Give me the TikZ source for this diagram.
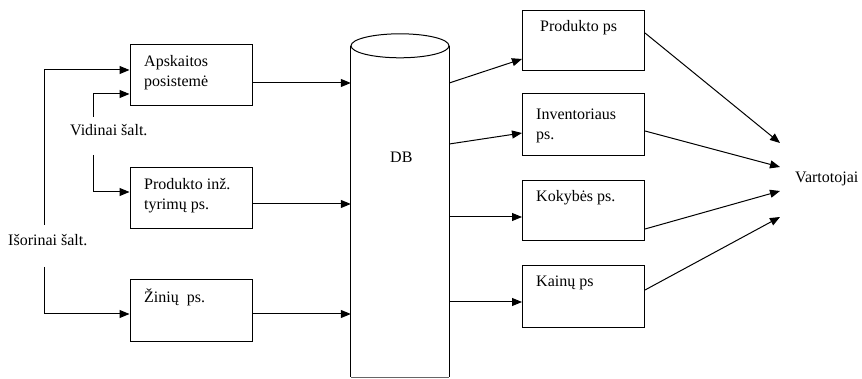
\documentclass[tikz,border=0pt]{standalone}
\usepackage{fontspec}
\setmainfont{Liberation Serif}
\usetikzlibrary{arrows.meta}
\begin{document}
\begin{tikzpicture}[x=1pt,y=-1pt,
  box/.style={draw, line width=1pt, minimum width=122pt, minimum height=61pt, inner sep=0pt},
  lbl/.style={anchor=base west, inner sep=0pt, align=left, font=\fontsize{16}{20}\selectfont},
  arr/.style={line width=1pt, -{Triangle[length=10pt,width=8pt]}}]
\useasboundingbox (0,0) rectangle (862,379);
% left boxes
\node[box] (apsk) at (191,75.5) {};
\node[box] (inz) at (191,198.5) {};
\node[box] (zin) at (191,310.5) {};
\node[lbl] (tapsk) at (144,87) {Apskaitos\\posistemė};
\node[lbl] (tinz) at (144,210) {Produkto inž.\\tyrimų ps.};
\node[lbl] (tzin) at (144,303) {Žinių~ ps.};
% sources
\node[lbl] (vid) at (70,136) {Vidinai šalt.};
\node[lbl] (iso) at (8,246) {Išorinai šalt.};
\coordinate (v1) at (93,117);
\coordinate (v2) at (93,155);
\coordinate (i1) at (44,225);
\coordinate (i2) at (44,267);
\draw[arr] (v1) |- (apsk.west|-0,94);
\draw[arr] (v2) |- (inz.west|-0,192);
\draw[arr] (i1) |- (apsk.west|-0,70);
\draw[arr] (i2) |- (zin.west|-0,314);
% DB cylinder
\node[inner sep=0pt, minimum width=98pt, minimum height=331pt] (db) at (400,211.5) {};
\draw[line width=1pt] (db.north) ellipse [x radius=49, y radius=12];
\draw[line width=1pt] (db.north west) -- (db.south west);
\draw[line width=1pt] (db.north east) -- (db.south east);
\draw[line width=1pt, black!60] (db.south west) -- (db.south east);
\node[lbl] (tdb) at (390,163) {DB};
\draw[arr] (apsk.east|-0,83) -- (db.west|-0,83);
\draw[arr] (inz.east|-0,204) -- (db.west|-0,204);
\draw[arr] (zin.east|-0,314) -- (db.west|-0,314);
% right boxes
\node[box, minimum height=60pt] (prod) at (583.5,41) {};
\node[box, minimum height=62pt] (inv) at (583.5,125) {};
\node[box, minimum height=60pt] (kok) at (583.5,211) {};
\node[box, minimum height=61pt] (kain) at (583.5,296.5) {};
\node[lbl] (tprod) at (540,32) {Produkto ps};
\node[lbl] (tinv) at (536,140) {Inventoriaus\\ps.};
\node[lbl] (tkok) at (536,202) {Kokybės ps.};
\node[lbl] (tkain) at (536,287) {Kainų ps};
\draw[arr] (db.east|-0,83) -- (prod.west|-0,59);
\draw[arr] (db.east|-0,144) -- (inv.west|-0,133);
\draw[arr] (db.east|-0,217) -- (kok.west|-0,217);
\draw[arr] (db.east|-0,302) -- (kain.west|-0,302);
% users
\node[lbl] (vart) at (795,183) {Vartotojai};
\coordinate (u1) at (780,143);
\coordinate (u2) at (780,167);
\coordinate (u3) at (780,191);
\coordinate (u4) at (780,217);
\draw[arr] (prod.east|-0,33) -- (u1);
\draw[arr] (inv.east|-0,131) -- (u2);
\draw[arr] (kok.east|-0,229) -- (u3);
\draw[arr] (kain.east|-0,290) -- (u4);
\end{tikzpicture}
\end{document}
